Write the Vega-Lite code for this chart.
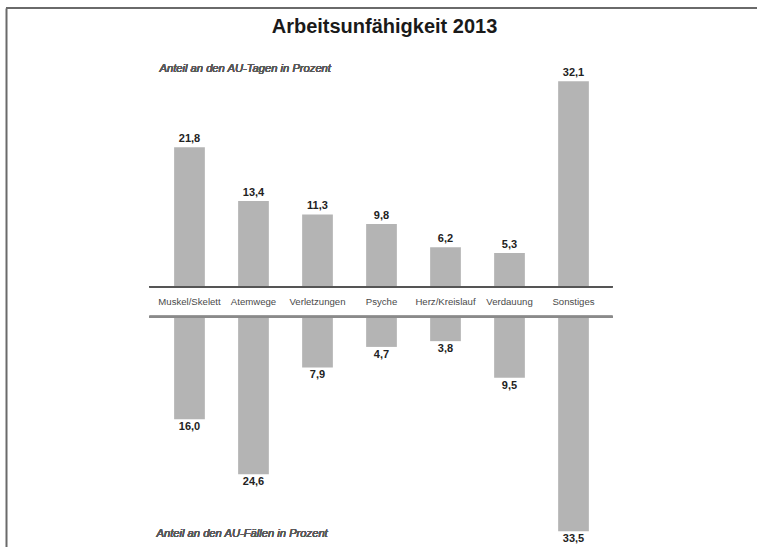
{
  "$schema": "https://vega.github.io/schema/vega-lite/v6.json",
  "width": 751,
  "height": 539,
  "autosize": {"type": "none"},
  "padding": {"left": 6, "top": 8, "right": 0, "bottom": 0},
  "background": "#ffffff",
  "title": {
    "text": "Arbeitsunfähigkeit 2013",
    "anchor": "middle",
    "frame": "group",
    "offset": -30,
    "dx": 3,
    "font": "Liberation Sans",
    "fontSize": 20,
    "fontWeight": "bold",
    "color": "#1a1a1a"
  },
  "config": {
    "locale": {"number": {"decimal": ",", "thousands": ".", "grouping": [3], "currency": ["", " €"]}},
    "view": {"stroke": null},
    "font": "Liberation Sans",
    "axis": {"domain": true, "domainColor": "#6a6a6a", "domainWidth": 2, "ticks": false, "labels": false, "grid": false, "title": null}
  },
  "data": {
    "values": [
      {"kategorie": "Muskel/Skelett", "tage": 21.8, "faelle": 16.0},
      {"kategorie": "Atemwege", "tage": 13.4, "faelle": 24.6},
      {"kategorie": "Verletzungen", "tage": 11.3, "faelle": 7.9},
      {"kategorie": "Psyche", "tage": 9.8, "faelle": 4.7},
      {"kategorie": "Herz/Kreislauf", "tage": 6.2, "faelle": 3.8},
      {"kategorie": "Verdauung", "tage": 5.3, "faelle": 9.5},
      {"kategorie": "Sonstiges", "tage": 32.1, "faelle": 33.5}
    ]
  },
  "layer": [
    {
      "description": "frame: top rule across the full width, left edge from the y axis domain line",
      "data": {"values": [{}]},
      "mark": {"type": "rule", "color": "#6a6a6a", "strokeWidth": 2},
      "encoding": {
        "y": {"datum": 1, "type": "quantitative", "scale": {"domain": [0, 1], "nice": false}, "axis": {"orient": "left"}}
      }
    },
    {
      "description": "Anteil an den AU-Tagen: bars upward above the category band",
      "encoding": {
        "x": {
          "field": "kategorie",
          "type": "nominal",
          "sort": null,
          "scale": {"range": [144, 607], "paddingInner": 0.52, "paddingOuter": 0.377},
          "axis": null
        },
        "y": {"type": "quantitative", "scale": {"domain": [-38.3, 45.9], "nice": false, "zero": false}, "axis": null}
      },
      "layer": [
        {
          "mark": {"type": "bar", "color": "#b4b4b4", "yOffset": -15, "y2Offset": -15},
          "encoding": {"y": {"field": "tage"}, "y2": {"datum": 0}}
        },
        {
          "mark": {"type": "text", "fontSize": 11, "fontWeight": "bold", "color": "#222222", "baseline": "middle", "dy": -23},
          "encoding": {"y": {"field": "tage"}, "text": {"field": "tage", "type": "quantitative", "format": ".1f"}}
        },
        {
          "mark": {"type": "text", "fontSize": 9.6, "color": "#4a4a4a", "baseline": "middle"},
          "encoding": {"y": {"datum": 0}, "text": {"field": "kategorie"}}
        },
        {
          "mark": {"type": "rule", "color": "#555555", "strokeWidth": 1.5, "yOffset": -15, "xOffset": -40, "x2Offset": 39},
          "encoding": {"x": {"datum": "Muskel/Skelett"}, "x2": {"datum": "Sonstiges"}, "y": {"datum": 0}}
        },
        {
          "mark": {"type": "text", "fontSize": 11.2, "fontStyle": "italic", "fontWeight": "normal", "color": "#5a5a5a", "align": "left", "baseline": "middle", "dx": -30},
          "encoding": {"x": {"datum": "Muskel/Skelett"}, "y": {"datum": 36.3}, "text": {"value": "Anteil an den AU-Tagen in Prozent"}}
        }
      ]
    },
    {
      "description": "Anteil an den AU-Fällen: bars downward below the category band",
      "encoding": {
        "x": {
          "field": "kategorie",
          "type": "nominal",
          "sort": null,
          "scale": {"range": [144, 607], "paddingInner": 0.52, "paddingOuter": 0.377},
          "axis": null
        },
        "y": {"type": "quantitative", "scale": {"domain": [-45.9, 38.3], "nice": false, "zero": false, "reverse": true}, "axis": null}
      },
      "layer": [
        {
          "mark": {"type": "bar", "color": "#b4b4b4", "yOffset": 15, "y2Offset": 15},
          "encoding": {"y": {"field": "faelle"}, "y2": {"datum": 0}}
        },
        {
          "mark": {"type": "text", "fontSize": 11, "fontWeight": "bold", "color": "#222222", "baseline": "middle", "dy": 23},
          "encoding": {"y": {"field": "faelle"}, "text": {"field": "faelle", "type": "quantitative", "format": ".1f"}}
        },
        {
          "mark": {"type": "rule", "color": "#8a8a8a", "strokeWidth": 2, "yOffset": 15, "xOffset": -40, "x2Offset": 39},
          "encoding": {"x": {"datum": "Muskel/Skelett"}, "x2": {"datum": "Sonstiges"}, "y": {"datum": 0}}
        },
        {
          "mark": {"type": "text", "fontSize": 11.2, "fontStyle": "italic", "fontWeight": "normal", "color": "#5a5a5a", "align": "left", "baseline": "middle", "dx": -33},
          "encoding": {"x": {"datum": "Muskel/Skelett"}, "y": {"datum": 36.2}, "text": {"value": "Anteil an den AU-Fällen in Prozent"}}
        }
      ]
    }
  ],
  "resolve": {"scale": {"y": "independent"}, "axis": {"y": "independent"}}
}
